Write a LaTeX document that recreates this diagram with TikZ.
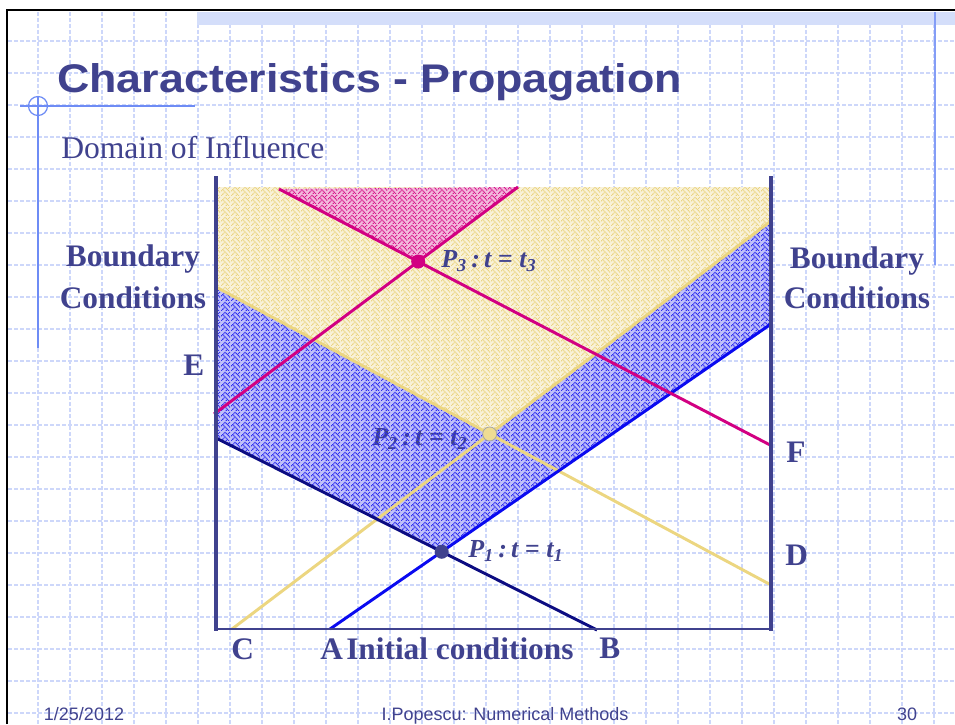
\documentclass[tikz,border=0pt]{standalone}
\usepackage{fontspec}
\setmainfont{Liberation Serif}
\newfontfamily\sansfont{Liberation Sans}
\usetikzlibrary{patterns}
\definecolor{navy}{RGB}{64,66,142}
\definecolor{gridblue}{RGB}{205,215,250}
\definecolor{decoblue}{RGB}{110,140,245}
\definecolor{bandblue}{RGB}{212,222,250}
\definecolor{lineblue}{RGB}{10,10,240}
\definecolor{linenavy}{RGB}{12,12,130}
\definecolor{lineyellow}{RGB}{236,214,128}
\definecolor{linemag}{RGB}{210,0,130}
\definecolor{hatchblue}{RGB}{45,45,240}
\definecolor{hatchyellow}{RGB}{234,212,130}
\definecolor{hatchmag}{RGB}{215,25,140}
\newcommand\wvpx[2]{\pgfpathrectangle{\pgfpoint{#1*0.9pt}{(7-#2)*0.9pt}}{\pgfpoint{0.9pt}{0.9pt}}}
\pgfdeclarepatternformonly{weave}{\pgfpointorigin}{\pgfqpoint{7.2pt}{7.2pt}}{\pgfqpoint{7.2pt}{7.2pt}}{%
  \wvpx{3}{0}\wvpx{7}{0}%
  \wvpx{2}{1}\wvpx{4}{1}\wvpx{6}{1}%
  \wvpx{1}{2}\wvpx{5}{2}%
  \wvpx{0}{3}\wvpx{2}{3}\wvpx{6}{3}%
  \wvpx{3}{4}\wvpx{7}{4}%
  \wvpx{2}{5}\wvpx{4}{5}%
  \wvpx{1}{6}\wvpx{5}{6}%
  \wvpx{0}{7}\wvpx{4}{7}\wvpx{6}{7}%
  \pgfusepath{fill}}
\tikzset{
  gridline/.style={draw=gridblue,line width=0.8pt,dash pattern=on 3pt off 1.5pt},
  deco/.style={draw=decoblue,line width=0.9pt},
  wall/.style={draw=navy,line width=3pt},
  baseline/.style={draw=navy,line width=1.3pt},
  charline/.style={line width=2.2pt},
  dot/.style={circle,inner sep=0pt,minimum size=10.5pt},
  lab/.style={text=navy,font=\fontsize{23.5}{27}\selectfont\bfseries,inner sep=0pt},
  plab/.style={text=navy,font=\fontsize{19.5}{22}\selectfont\bfseries\itshape,inner sep=0pt,anchor=base west},
  foot/.style={text=navy,font=\sansfont\fontsize{13.5}{16}\selectfont,inner sep=0pt,anchor=base}
}
\begin{document}
\begin{tikzpicture}[x=0.75pt,y=-0.75pt]
\useasboundingbox (0,0) rectangle (955,724);
\fill[white] (0,0) rectangle (955,724);
% background grid
\foreach \k in {0,...,28} \draw[gridline] (38+32*\k,12) -- (38+32*\k,724);
\foreach \k in {0,...,21} \draw[gridline] (8,41+32*\k) -- (955,41+32*\k);
% top band and frame
\fill[bandblue] (197,12) rectangle (955,25);
\draw[line width=2pt] (7,724) -- (7,10) -- (955,10);
% decorations
\coordinate (dl1) at (20,106); \coordinate (dl2) at (195,106);
\coordinate (dv1) at (38,96); \coordinate (dv2) at (38,348);
\draw[deco] (dl1) -- (dl2);
\draw[deco] (dv1) -- (dv2);
\draw[deco] (38,106) circle[radius=9.5];
\coordinate (dr1) at (935,12); \coordinate (dr2) at (935,265);
\draw[draw=decoblue!85,line width=1.3pt] (dr1) -- (dr2);
% title
\node[anchor=base west,inner sep=0pt,text=navy] (title) at (57,93)
  {\scalebox{1.12}[1]{\sansfont\fontsize{30}{34}\selectfont\bfseries Characteristics - Propagation}};
\node[anchor=base west,inner sep=0pt,text=navy,font=\fontsize{23.7}{27}\selectfont] (sub) at (61,158) {Domain of Influence};
% key coordinates
\coordinate (C) at (232,629);
\coordinate (A) at (330,629);
\coordinate (B) at (597,630);
\coordinate (D) at (771,585);
\coordinate (F) at (772,446);
\coordinate (Ytop) at (771,221);
\coordinate (Yleft) at (216,287);
\coordinate (Bright) at (771,324);
\coordinate (Nleft) at (216,438);
\coordinate (Mleft) at (214,414);
\coordinate (Mtop) at (518,187);
\coordinate (Mtl) at (279,189);
\coordinate (P1) at (intersection of A--Bright and B--Nleft);
\coordinate (P2) at (intersection of C--Ytop and D--Yleft);
\coordinate (P3) at (intersection of Mleft--Mtop and Mtl--F);
\coordinate (TL) at (216,187);
\coordinate (TR) at (771,187);
% blue region
\fill[hatchblue!30] (TL) -- (TR) -- (Bright) -- (P1) -- (Nleft) -- cycle;
\node[plab] (p2lab) at (372,445) {P\textsubscript{2}\,:\,t = t\textsubscript{2}};
\fill[pattern=weave,pattern color=hatchblue] (TL) -- (TR) -- (Bright) -- (P1) -- (Nleft) -- cycle;
% yellow region
\fill[white] (TL) -- (TR) -- (Ytop) -- (P2) -- (Yleft) -- cycle;
\fill[hatchyellow!30] (TL) -- (TR) -- (Ytop) -- (P2) -- (Yleft) -- cycle;
\fill[pattern=weave,pattern color=hatchyellow] (TL) -- (TR) -- (Ytop) -- (P2) -- (Yleft) -- cycle;
% magenta region
\fill[white] (Mtl) -- (P3) -- (Mtop) -- cycle;
\fill[hatchmag!30] (Mtl) -- (P3) -- (Mtop) -- cycle;
\fill[pattern=weave,pattern color=hatchmag] (Mtl) -- (P3) -- (Mtop) -- cycle;
% characteristic lines
\draw[charline,lineyellow] (C) -- (Ytop);
\draw[charline,lineyellow] (D) -- (Yleft);
\draw[charline,lineblue] (A) -- (Bright);
\draw[charline,linenavy] (B) -- (Nleft);
\draw[charline,linemag] (Mleft) -- (Mtop);
\draw[charline,linemag] (Mtl) -- (F);
% walls
\coordinate (WLt) at (216,176); \coordinate (WLb) at (216,631);
\coordinate (WRt) at (771,176); \coordinate (WRb) at (771,631);
\coordinate (BL) at (216,629); \coordinate (BR) at (771,629);
\draw[wall] (WLt) -- (WLb);
\draw[wall] (WRt) -- (WRb);
\draw[baseline] (BL) -- (BR);
% points
\node[dot,fill=navy] (p1) at (P1) {};
\node[dot,fill=lineyellow!85!white,draw=gray!70,line width=0.6pt] (p2) at (P2) {};
\node[dot,fill=linemag] (p3) at (P3) {};
\node[plab] (p1lab) at (468,557) {P\textsubscript{1}\,:\,t = t\textsubscript{1}};
\node[plab] (p3lab) at (441,267) {P\textsubscript{3}\,:\,t = t\textsubscript{3}};
% labels
\node[lab,align=center,anchor=base] (bcl) at (133,308) {Boundary\\[4pt]Conditions};
\node[lab,align=center,anchor=base] (bcr) at (857,308) {Boundary\\[3pt]Conditions};
\node[lab,anchor=base west] (labE) at (183,375) {E};
\node[lab,anchor=base west] (labF) at (786,462) {F};
\node[lab,anchor=base west] (labD) at (785,565) {D};
\node[lab,anchor=base west] (labC) at (231,659) {C};
\node[lab,anchor=base west] (labA) at (320,659) {A};
\node[lab,anchor=base west] (labI) at (346,659) {Initial conditions};
\node[lab,anchor=base west] (labB) at (599,658) {B};
% footer
\node[foot] (date) at (84,720) {1/25/2012};
\node[foot] (author) at (505,720) {I.Popescu: Numerical Methods};
\node[foot] (page) at (907,720) {30};
\end{tikzpicture}
\end{document}
